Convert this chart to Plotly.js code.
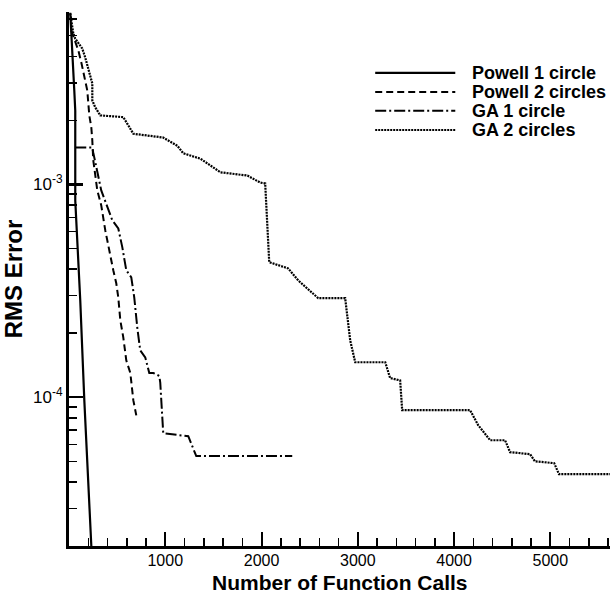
<!DOCTYPE html>
<html>
<head>
<meta charset="utf-8">
<script src="https://cdn.plot.ly/plotly-3.0.1.min.js"></script>
<style>
  html, body { margin: 0; padding: 0; background: #fff; }
  #chart { width: 612px; height: 593px; }
</style>
</head>
<body>
<div id="chart"></div>
<script>
// Convergence history: RMS error versus number of function calls

const seriesNames = ["Powell 1 circle", "Powell 2 circles", "GA 1 circle", "GA 2 circles"];

const powell1Calls = [13, 34, 55, 65, 65, 117, 159, 232, 242];
const powell1Err   = [6.4e-3, 3.82e-3, 2.76e-3, 2.22e-3, 8.41e-4, 2.85e-4, 9.69e-5, 2.0e-5, 1.54e-5];

const powell2Calls = [24, 97, 128, 159, 190, 211, 232, 242, 252, 294, 335, 377, 429, 460, 491, 512, 533, 564, 595, 637, 668, 699];
const powell2Err   = [5.28e-3, 4.26e-3, 3.74e-3, 3.18e-3, 2.76e-3, 2.11e-3, 1.85e-3, 1.61e-3, 1.30e-3, 9.37e-4, 7.97e-4, 6.08e-4,
                      4.54e-4, 3.95e-4, 3.43e-4, 2.94e-4, 2.30e-4, 1.91e-4, 1.49e-4, 1.30e-4, 9.69e-5, 8.22e-5];

const ga1Calls = [65, 242, 252, 335, 450, 512, 554, 595, 647, 678, 709, 740, 792, 834, 875, 938, 948, 979, 1239, 1322, 2319];
const ga1Err   = [1.49e-3, 1.49e-3, 1.41e-3, 9.37e-4, 6.78e-4, 6.21e-4, 5.06e-4, 3.95e-4, 3.66e-4, 2.94e-4, 2.13e-4, 1.66e-4,
                  1.54e-4, 1.30e-4, 1.30e-4, 1.26e-4, 1.17e-4, 6.77e-5, 6.56e-5, 5.29e-5, 5.29e-5];

const ga2Calls = [13, 45, 65, 97, 138, 169, 200, 242, 242, 273, 325, 564, 605, 668, 979, 1125, 1187, 1366, 1573, 1854, 1986, 2038,
                  2080, 2277, 2381, 2589, 2869, 2921, 2973, 3285, 3336, 3440, 3461, 4167, 4250, 4375, 4530, 4582, 4790, 4840, 5040, 5090, 5620];
const ga2Err   = [6.35e-3, 5.12e-3, 4.84e-3, 4.59e-3, 4.35e-3, 3.94e-3, 3.54e-3, 2.98e-3, 2.48e-3, 2.30e-3, 2.11e-3, 2.07e-3, 1.93e-3,
                  1.73e-3, 1.66e-3, 1.52e-3, 1.40e-3, 1.32e-3, 1.14e-3, 1.10e-3, 1.02e-3, 1.01e-3,
                  4.31e-4, 4.03e-4, 3.54e-4, 2.92e-4, 2.92e-4, 1.85e-4, 1.46e-4, 1.46e-4, 1.23e-4, 1.20e-4, 8.69e-5, 8.69e-5,
                  7.40e-5, 6.28e-5, 6.28e-5, 5.52e-5, 5.40e-5, 5.00e-5, 4.90e-5, 4.35e-5, 4.35e-5];

const xTickVals  = [1000, 2000, 3000, 4000, 5000];
const yTickVals  = [1e-3, 1e-4];
const yTickText  = ["10<sup>-3</sup>", "10<sup>-4</sup>"];
const yMinorVals = [2e-5, 3e-5, 4e-5, 5e-5, 6e-5, 7e-5, 8e-5, 9e-5, 2e-4, 3e-4, 4e-4, 5e-4, 6e-4, 7e-4, 8e-4, 9e-4,
                    2e-3, 3e-3, 4e-3, 5e-3, 6e-3];

const xTitle = "Number of Function Calls";
const yTitle = "RMS Error";

const dashes = ["solid", "7px,4px", "11px,3px,2px,3px", "2px,1px"];
const widths = [2.2, 2, 2, 2.2];

const xs = [powell1Calls, powell2Calls, ga1Calls, ga2Calls];
const ys = [powell1Err, powell2Err, ga1Err, ga2Err];

const traces = seriesNames.map((name, i) => ({
  type: "scatter",
  mode: "lines",
  name: name,
  x: xs[i],
  y: ys[i],
  line: { color: "#000", width: widths[i], dash: dashes[i] },
  showlegend: false,
  cliponaxis: true
}));

const FONT = "Liberation Sans, Arial, sans-serif";

// Hand-laid legend block (longer line samples than the built-in legend)
const legendX0 = 0.566, legendX1 = 0.714, legendTextX = 0.741;
const legendRowsY = [0.886, 0.850, 0.815, 0.779];
const shapes = [];
const annotations = [];
seriesNames.forEach((name, i) => {
  shapes.push({
    type: "line", xref: "paper", yref: "paper",
    x0: legendX0, x1: legendX1, y0: legendRowsY[i], y1: legendRowsY[i],
    line: { color: "#000", width: widths[i], dash: dashes[i] }
  });
  annotations.push({
    xref: "paper", yref: "paper", x: legendTextX, y: legendRowsY[i],
    xanchor: "left", yanchor: "middle", showarrow: false,
    text: "<b>" + name + "</b>",
    font: { family: FONT, size: 18, color: "#000" }
  });
});

// x-axis title placed just under the tick labels
annotations.push({
  xref: "paper", yref: "paper", x: 0.5, y: -0.068,
  xanchor: "center", yanchor: "middle", showarrow: false,
  text: "<b>" + xTitle + "</b>",
  font: { family: FONT, size: 21, color: "#000" }
});

const layout = {
  width: 612,
  height: 593,
  margin: { l: 69, r: 2, t: 12, b: 47 },
  paper_bgcolor: "#fff",
  plot_bgcolor: "#fff",
  showlegend: false,
  font: { family: FONT, color: "#000" },
  xaxis: {
    range: [0, 5620],
    tickmode: "array",
    tickvals: xTickVals,
    ticks: "inside",
    ticklen: 14,
    tickwidth: 2,
    tickcolor: "#000",
    tickfont: { size: 16, color: "#000" },
    ticklabelstandoff: -2,
    showgrid: false,
    zeroline: false,
    showline: true,
    linewidth: 3,
    linecolor: "#000",
    minor: { dtick: 200, tick0: 0, ticks: "inside", ticklen: 8, tickwidth: 1.5, tickcolor: "#000", showgrid: false }
  },
  yaxis: {
    type: "log",
    range: [Math.log10(2e-5), -2.19],
    tickmode: "array",
    tickvals: yTickVals,
    ticktext: yTickText,
    ticks: "inside",
    ticklen: 14,
    tickwidth: 2.5,
    tickcolor: "#000",
    tickfont: { size: 17, color: "#000" },
    showgrid: false,
    zeroline: false,
    showline: true,
    linewidth: 3,
    linecolor: "#000",
    minor: { tickmode: "array", tickvals: yMinorVals, ticks: "inside", ticklen: 8, tickwidth: 1.5, tickcolor: "#000", showgrid: false },
    title: { text: "<b>" + yTitle + "</b>", font: { size: 24, color: "#000" }, standoff: 6 }
  },
  shapes: shapes,
  annotations: annotations
};

Plotly.newPlot("chart", traces, layout, { displayModeBar: false, staticPlot: true });
</script>
</body>
</html>
